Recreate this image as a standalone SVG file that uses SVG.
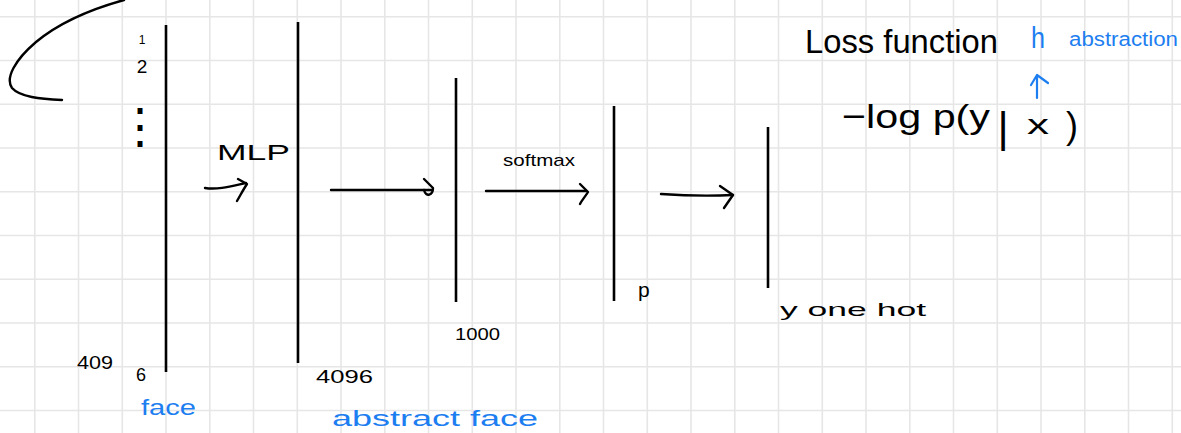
<svg xmlns="http://www.w3.org/2000/svg" width="1181" height="433" viewBox="0 0 1181 433">
  <style>
    .grid { stroke: #e6e6e6; stroke-width: 1.6; fill: none; }
    .ink { stroke: #000; stroke-width: 2.4; fill: none; stroke-linecap: round; stroke-linejoin: round; }
    .ink-blue { stroke: #1c7ef0; stroke-width: 2.2; fill: none; stroke-linecap: round; stroke-linejoin: round; }
    .bar { stroke: #000; stroke-width: 2.6; stroke-linecap: butt; }
    text { font-family: "Liberation Sans", Arial, sans-serif; fill: #000; }
    .blue { fill: #1c7ef0; }
  </style>

  <rect x="0" y="0" width="1181" height="433" fill="#ffffff"/>

  <!-- squared paper -->
  <path class="grid" d="M34.8,0V433 M78.5,0V433 M122.3,0V433 M166,0V433 M209.8,0V433 M253.5,0V433 M297.3,0V433 M341,0V433 M384.8,0V433 M428.5,0V433 M472.3,0V433 M516,0V433 M559.8,0V433 M603.5,0V433 M647.3,0V433 M691,0V433 M734.8,0V433 M778.5,0V433 M822.3,0V433 M866,0V433 M909.8,0V433 M953.5,0V433 M997.3,0V433 M1041,0V433 M1084.8,0V433 M1128.5,0V433 M1172.3,0V433
    M0,16.7H1181 M0,60.5H1181 M0,104.2H1181 M0,148H1181 M0,191.7H1181 M0,235.5H1181 M0,279.2H1181 M0,323H1181 M0,366.7H1181 M0,410.5H1181"/>

  <!-- loose stroke at the top-left edge -->
  <path class="ink" d="M124,0 C95,8 60,22 36,42 C15,60 5,78 12,88 C20,97 40,99 62,100"/>

  <!-- layer: input face vector -->
  <g id="node-face">
    <line class="bar" x1="166" y1="25" x2="166" y2="372"/>
    <text x="142" y="44" font-size="12" text-anchor="middle">1</text>
    <text x="142" y="73" font-size="19" text-anchor="middle">2</text>
    <text x="140" y="143" font-size="48" text-anchor="middle">⋮</text>
    <text x="77" y="369" font-size="18" textLength="36" lengthAdjust="spacingAndGlyphs">409</text>
    <text x="136" y="381" font-size="18">6</text>
    <text class="blue" x="141" y="415" font-size="22" textLength="55" lengthAdjust="spacingAndGlyphs">face</text>
  </g>

  <!-- layer: abstract face features -->
  <g id="node-abstract-face">
    <line class="bar" x1="298" y1="22" x2="298" y2="363"/>
    <text x="316" y="383" font-size="18" textLength="57" lengthAdjust="spacingAndGlyphs">4096</text>
    <text class="blue" x="332" y="426" font-size="22" textLength="206" lengthAdjust="spacingAndGlyphs">abstract face</text>
  </g>

  <!-- layer: 1000 class scores -->
  <g id="node-scores">
    <line class="bar" x1="456" y1="78" x2="456" y2="302"/>
    <text x="455" y="340" font-size="16" textLength="45" lengthAdjust="spacingAndGlyphs">1000</text>
  </g>

  <!-- layer: probabilities -->
  <g id="node-prob">
    <line class="bar" x1="614" y1="106" x2="614" y2="301"/>
    <text x="638" y="297" font-size="21">p</text>
  </g>

  <!-- layer: one-hot target -->
  <g id="node-onehot">
    <line class="bar" x1="768" y1="127" x2="768" y2="288"/>
    <text x="780" y="316" font-size="19" textLength="146" lengthAdjust="spacingAndGlyphs">y one hot</text>
  </g>

  <!-- transitions between layers -->
  <g id="connectors">
    <path class="ink" d="M205,188 C218,190 232,186 246,183"/>
    <path class="ink" d="M238,179 L247,184 C243,190 240,196 237,201"/>
    <text x="217" y="160" font-size="22" textLength="73" lengthAdjust="spacingAndGlyphs">MLP</text>

    <path class="ink" d="M331,190 L432,190"/>
    <path class="ink" d="M424,179 L433,188 C433,195 426,198 424,190"/>

    <path class="ink" d="M486,191 L586,191"/>
    <path class="ink" d="M580,184 L588,192 C585,197 582,200 580,204"/>
    <text x="503" y="166" font-size="17" textLength="72" lengthAdjust="spacingAndGlyphs">softmax</text>

    <path class="ink" d="M661,194 C690,196 712,196 733,195"/>
    <path class="ink" d="M720,186 L733,195 L724,208"/>
  </g>

  <!-- loss annotation -->
  <g id="loss">
    <text x="805" y="53" font-size="33" textLength="193" lengthAdjust="spacingAndGlyphs">Loss function</text>
    <text x="842" y="128" font-size="34" textLength="148" lengthAdjust="spacingAndGlyphs">−log p(y</text>
    <text x="1003" y="142" font-size="43" text-anchor="middle">|</text>
    <text x="1027" y="134" font-size="28" textLength="22" lengthAdjust="spacingAndGlyphs">x</text>
    <text x="1066" y="138" font-size="36">)</text>
    <text class="blue" x="1031" y="48" font-size="30" textLength="14" lengthAdjust="spacingAndGlyphs">h</text>
    <text class="blue" x="1069" y="46" font-size="20" textLength="109" lengthAdjust="spacingAndGlyphs">abstraction</text>
    <path class="ink-blue" d="M1037,98 L1037,75 M1031,85 L1037,75 L1048,83"/>
  </g>
</svg>
